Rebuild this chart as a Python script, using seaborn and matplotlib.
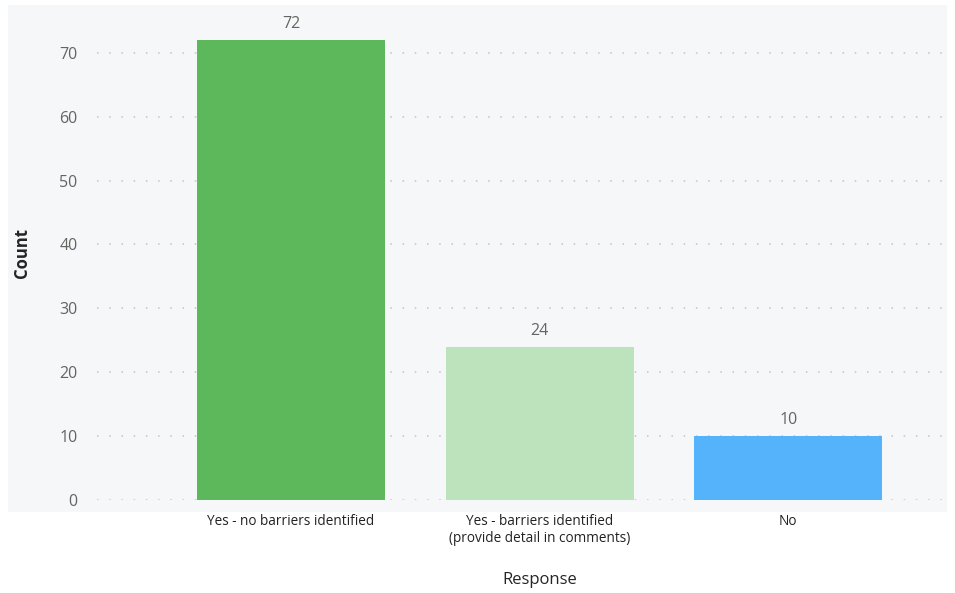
import matplotlib
matplotlib.use('Agg')
import matplotlib.pyplot as plt
import pandas as pd
import seaborn as sns

categories = ["Yes - no barriers identified",
              "Yes - barriers identified\n(provide detail in comments)",
              "No"]
counts = [72, 24, 10]
bar_colors = ["#5cb85a", "#bde3bc", "#55b3fb"]
y_ticks = [0, 10, 20, 30, 40, 50, 60, 70]

df = pd.DataFrame({"Response": categories, "Count": counts})

sns.set_style("white")
plt.rcParams['font.family'] = ['Open Sans', 'DejaVu Sans']

W, H = 955, 593
fig = plt.figure(figsize=(W / 100, H / 100), dpi=100, facecolor="white")

# light panel behind the chart (separate background axes)
bg = fig.add_axes([8 / W, 1 - 512 / H, (947 - 8) / W, (512 - 5) / H])
bg.set_facecolor("#f6f7f9")
bg.set_xticks([])
bg.set_yticks([])
for s in bg.spines.values():
    s.set_visible(False)

ax = fig.add_axes([97 / W, 1 - 500 / H, (945 - 97) / W, (500 - 8) / H])
ax.set_facecolor("none")

sns.barplot(data=df, x="Response", y="Count", hue="Response",
            palette=bar_colors, legend=False, width=0.757, saturation=1,
            linewidth=0, ax=ax)

ax.set_xlim(-0.78, 2.63)
ax.set_ylim(0, 77)
ax.set_yticks(y_ticks)
ax.yaxis.grid(True, linestyle=(0, (1, 7)), color="#c4c4c4", linewidth=1.1)
ax.set_axisbelow(True)
for s in ax.spines.values():
    s.set_visible(False)

ax.tick_params(axis="y", length=0, pad=14, labelsize=11.5, labelcolor="#666461")
ax.tick_params(axis="x", length=0, pad=10, labelsize=9.8, labelcolor="#222222")

for i, v in enumerate(counts):
    ax.text(i, v + 1.2, str(v), ha="center", va="bottom", fontsize=11.5,
            color="#666461", clip_on=False)

ax.set_ylabel("")
ax.set_xlabel("")
fig.text(22 / W, 1 - 253 / H, "Count", rotation=90, ha="center", va="center",
         fontsize=12, fontweight="bold", color="#252423")
fig.text(540 / W, 1 - 580 / H, "Response", ha="center", va="center",
         fontsize=12, color="#252423")

fig.savefig("out.png", dpi=100, facecolor="white")
